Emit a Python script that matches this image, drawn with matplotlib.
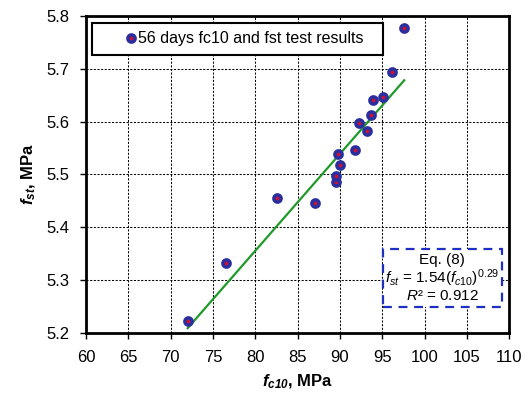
import numpy as np
import matplotlib
matplotlib.use("Agg")
import matplotlib.pyplot as plt
from matplotlib.patches import Rectangle

plt.rcParams['font.family'] = ['Liberation Sans', 'DejaVu Sans']
plt.rcParams['mathtext.fontset'] = 'custom'
plt.rcParams['mathtext.rm'] = 'Liberation Sans'
plt.rcParams['mathtext.it'] = 'Liberation Sans:italic'
plt.rcParams['mathtext.bf'] = 'Liberation Sans:bold'
plt.rcParams['mathtext.bfit'] = 'Liberation Sans:bold:italic'

# 56 days test results
fc10 = [72.0, 76.5, 82.5, 87.0, 89.5, 89.55, 90.0, 89.8, 91.8, 93.2, 92.2, 93.65, 93.9, 95.05, 96.2, 97.6]
fst = [5.222, 5.332, 5.455, 5.445, 5.486, 5.497, 5.517, 5.538, 5.547, 5.582, 5.597, 5.613, 5.641, 5.646, 5.693, 5.777]

# trendline end points
fit_x = [72.0, 97.6]
fit_y = [5.209, 5.678]

xticks = np.arange(60, 111, 5)
yticks = [5.2, 5.3, 5.4, 5.5, 5.6, 5.7, 5.8]

fig = plt.figure(figsize=(5.32, 4.05), dpi=100)
ax = fig.add_axes([0.162, 0.178, 0.795, 0.783])

ax.plot(fit_x, fit_y, color="#1f9a2a", lw=1.6, zorder=3)
ax.plot(fc10, fst, ls="none", marker="o", ms=5.2, mew=2.5,
        mfc="#d0102e", mec="#2a2fa0", zorder=4,
        label="56 days fc10 and fst test results")

ax.set_xlim(60, 110)
ax.set_ylim(5.2, 5.8)
ax.set_xticks(xticks)
ax.set_yticks(yticks)
ax.yaxis.set_major_formatter(plt.FormatStrFormatter("%.1f"))
ax.tick_params(labelsize=12, direction="out", length=4, width=1, pad=8)
ax.grid(True, color="black", ls=(0, (2, 1.5)), lw=0.75)
ax.set_axisbelow(True)
for s in ax.spines.values():
    s.set_linewidth(2)

ax.set_xlabel(r"$\mathbfit{f}_{\mathbfit{c10}}$, MPa", fontsize=12, fontweight="bold", labelpad=6)
ax.set_ylabel(r"$\mathbfit{f}_{\mathbfit{st}}$, MPa", fontsize=12, fontweight="bold", labelpad=6)

# legend box
ax.add_patch(Rectangle((0.014, 0.877), 0.688, 0.101, transform=ax.transAxes,
                       fill=True, fc="white", ec="black", lw=1.5, zorder=5))
leg = ax.legend(loc="center", bbox_to_anchor=(0.375, 0.928), frameon=False,
                fontsize=11.5, handlelength=0.6, handletextpad=0.15, borderpad=0)
leg.set_zorder(6)

# equation box
ax.add_patch(Rectangle((0.702, 0.082), 0.281, 0.183, transform=ax.transAxes,
                       fill=True, fc="white", ec="#1f2fc0", lw=1.6, ls=(0, (4, 3)), zorder=5))
ax.text(0.842, 0.174, "Eq. (8)\n$f_{st}$ = 1.54($f_{c10}$)$^{0.29}$\n$R$² = 0.912",
        transform=ax.transAxes, ha="center", va="center", fontsize=11,
        linespacing=1.0, zorder=6)

fig.savefig("out.png", dpi=100)
